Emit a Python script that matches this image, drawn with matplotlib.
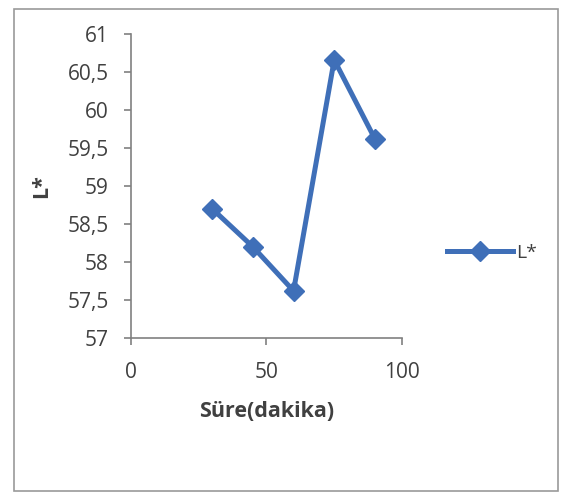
import matplotlib.pyplot as plt
from matplotlib.patches import Rectangle
from matplotlib.ticker import FuncFormatter

# data
sure = [30, 45, 60, 75, 90]
l_star = [58.7, 58.2, 57.62, 60.66, 59.62]
x_ticks = [0, 50, 100]
y_ticks = [57, 57.5, 58, 58.5, 59, 59.5, 60, 60.5, 61]

plt.rcParams['font.family'] = ['Open Sans', 'DejaVu Sans']

fig = plt.figure(figsize=(5.69, 4.98), dpi=100)
ax = fig.add_axes([0.230, 0.3213, 0.4765, 0.6104])

# grey frame around the whole chart
fig.patches.append(Rectangle((14 / 569, 1 - 491 / 498), 544 / 569, 482 / 498,
                             transform=fig.transFigure, fill=False,
                             edgecolor='#9a9a9a', lw=1.2))

ax.plot(sure, l_star, color='#3f6fb8', lw=3.6, marker='D', markersize=10,
        label='L*')

ax.set_xlim(0, 100)
ax.set_ylim(57, 61)
ax.set_xticks(x_ticks)
ax.set_yticks(y_ticks)
ax.yaxis.set_major_formatter(FuncFormatter(lambda v, p: ('%g' % v).replace('.', ',')))

for s in ['top', 'right']:
    ax.spines[s].set_visible(False)
for s in ['left', 'bottom']:
    ax.spines[s].set_color('#808080')
    ax.spines[s].set_linewidth(1.2)
ax.tick_params(colors='#808080', labelcolor='#404040', labelsize=15, length=5, width=1.2)
ax.tick_params(axis='y', pad=11)
ax.tick_params(axis='x', pad=12)

ax.set_xlabel('Süre(dakika)', fontsize=15.5, fontweight='bold', color='#404040', labelpad=13)
ax.set_ylabel('L*', fontsize=15.5, fontweight='bold', color='#404040', labelpad=11)

ax.legend(loc='center left', bbox_to_anchor=(1.1, 0.28), frameon=False,
          fontsize=14, handlelength=3.4, handletextpad=0.2,
          labelcolor='#404040')

fig.savefig('out.png', dpi=100)
